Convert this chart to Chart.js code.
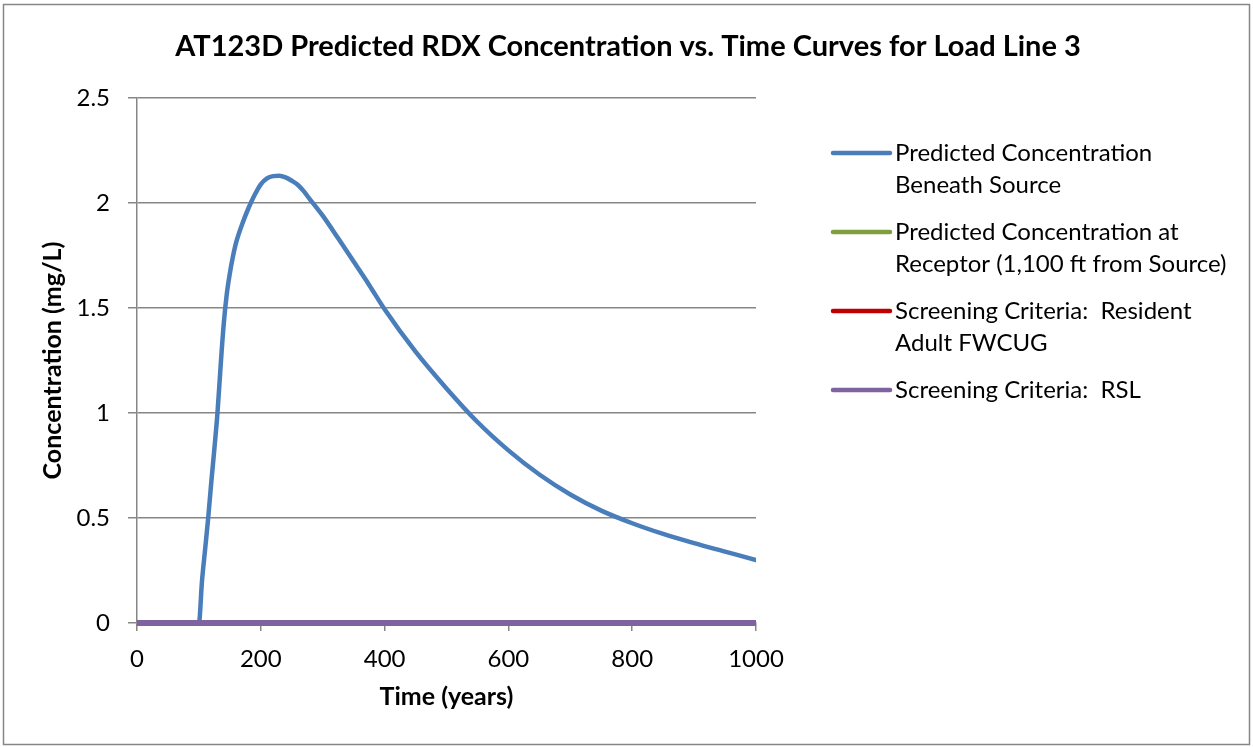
<!DOCTYPE html>
<html>
<head>
<meta charset="utf-8">
<script src="https://cdn.jsdelivr.net/npm/chart.js@4/dist/chart.umd.min.js"></script>
<style>
  html, body { margin: 0; padding: 0; background: #ffffff; }
  #wrap { position: relative; width: 1253px; height: 747px; }
</style>
</head>
<body>
<div id="wrap"><canvas id="c" width="1253" height="747"></canvas></div>
<script>
// ---- Data ----
const years = [0, 50, 100, 105, 110, 115, 120, 125, 130, 135, 140, 145, 150, 155, 160, 170, 180, 190, 200, 210, 220, 230, 240, 250, 260, 270, 280, 290, 300, 325, 350, 375, 400, 450, 500, 550, 600, 650, 700, 750, 800, 850, 900, 950, 1000];
const beneathSource = [0, 0, 0, 0.2, 0.35, 0.5, 0.67, 0.83, 1.0, 1.22, 1.42, 1.565, 1.665, 1.745, 1.81, 1.9, 1.975, 2.038, 2.089, 2.117, 2.128, 2.13, 2.122, 2.106, 2.086, 2.054, 2.015, 1.978, 1.94, 1.832, 1.721, 1.61, 1.494, 1.292, 1.117, 0.957, 0.822, 0.707, 0.612, 0.535, 0.475, 0.424, 0.38, 0.34, 0.30];
const receptorYears = [0, 1000];
const atReceptor = [0, 0];
const fwcugYears = [0, 1000];
const residentAdultFWCUG = [0, 0];
const rslYears = [0, 1000];
const screeningRSL = [0, 0];
const xTicks = [0, 200, 400, 600, 800, 1000];
const yTicks = [0, 0.5, 1, 1.5, 2, 2.5];

const chartTitle = 'AT123D Predicted RDX Concentration vs. Time Curves for Load Line 3';
const xTitle = 'Time (years)';
const yTitle = 'Concentration (mg/L)';
const seriesNames = [
  ['Predicted Concentration', 'Beneath Source'],
  ['Predicted Concentration at', 'Receptor (1,100 ft from Source)'],
  ['Screening Criteria:  Resident', 'Adult FWCUG'],
  ['Screening Criteria:  RSL']
];
const seriesColors = ['#4A7EBB', '#7F9F3F', '#C00000', '#7F62A0'];

function pts(xs, ys) { return xs.map((x, i) => ({ x: x, y: ys[i] })); }

const FONT = 'Lato, "Noto Sans", sans-serif';
const GRID = '#868686';

const borderPlugin = {
  id: 'outerBorder',
  beforeDraw(chart) {
    const ctx = chart.ctx;
    ctx.save();
    ctx.fillStyle = '#ffffff';
    ctx.fillRect(0, 0, chart.width, chart.height);
    ctx.strokeStyle = '#868686';
    ctx.lineWidth = 1.5;
    ctx.strokeRect(3.5, 4.5, 1246, 740);
    ctx.restore();
  }
};

const titlePlugin = {
  id: 'fullTitle',
  afterDraw(chart) {
    const ctx = chart.ctx;
    ctx.save();
    ctx.font = 'bold 29px ' + FONT;
    ctx.fillStyle = '#000000';
    ctx.textAlign = 'center';
    ctx.textBaseline = 'middle';
    ctx.fillText(chartTitle, 628, 47);
    ctx.restore();
  }
};

const legendPlugin = {
  id: 'sideLegend',
  afterDraw(chart) {
    const ctx = chart.ctx;
    const area = chart.chartArea;
    const x0 = area.right + 77;
    const lineLen = 57;
    const textX = x0 + lineLen + 5;
    let y = area.top + 55;
    const lh = 32;
    const gap = 15;
    ctx.save();
    ctx.font = '24px ' + FONT;
    ctx.textBaseline = 'middle';
    ctx.textAlign = 'left';
    seriesNames.forEach((lines, i) => {
      ctx.strokeStyle = seriesColors[i];
      ctx.lineWidth = 4.5;
      ctx.lineCap = 'round';
      ctx.beginPath();
      ctx.moveTo(x0, y);
      ctx.lineTo(x0 + lineLen, y);
      ctx.stroke();
      ctx.fillStyle = '#000000';
      lines.forEach((t, j) => ctx.fillText(t, textX, y + j * lh));
      y += lines.length * lh + gap;
    });
    ctx.restore();
  }
};

new Chart(document.getElementById('c'), {
  type: 'line',
  data: {
    datasets: [
      { label: seriesNames[0].join(' '), data: pts(years, beneathSource), borderColor: seriesColors[0], borderWidth: 4.5, pointRadius: 0, cubicInterpolationMode: 'monotone', order: 4, borderCapStyle: 'round', borderJoinStyle: 'round' },
      { label: seriesNames[1].join(' '), data: pts(receptorYears, atReceptor), borderColor: seriesColors[1], borderWidth: 4.5, pointRadius: 0, order: 3, clip: 6 },
      { label: seriesNames[2].join(' '), data: pts(fwcugYears, residentAdultFWCUG), borderColor: seriesColors[2], borderWidth: 4.5, pointRadius: 0, order: 2, clip: 6 },
      { label: seriesNames[3].join(' '), data: pts(rslYears, screeningRSL), borderColor: seriesColors[3], borderWidth: 6, pointRadius: 0, order: 1, clip: 6 }
    ]
  },
  options: {
    responsive: false,
    animation: false,
    devicePixelRatio: 1,
    layout: { padding: { left: 0, right: 497, top: 98, bottom: 0 } },
    plugins: {
      legend: { display: false },
      tooltip: { enabled: false },
      title: { display: false }
    },
    scales: {
      x: {
        type: 'linear',
        min: 0, max: 1000,
        afterFit(s) { s.height = 124; },
        afterBuildTicks(s) { s.ticks = xTicks.map(v => ({ value: v })); },
        grid: { display: true, drawOnChartArea: false, drawTicks: true, tickLength: 8, color: GRID, lineWidth: 1.5 },
        border: { display: true, color: GRID, width: 1.5 },
        ticks: { color: '#000000', font: { family: FONT, size: 24 }, padding: 14, maxRotation: 0, callback: v => String(v) },
        title: { display: true, text: xTitle, color: '#000000', font: { family: FONT, size: 25, weight: 'bold' }, padding: { top: 10, bottom: 35 } }
      },
      y: {
        type: 'linear',
        min: 0, max: 2.5,
        afterFit(s) { s.width = 137; },
        afterBuildTicks(s) { s.ticks = yTicks.map(v => ({ value: v })); },
        grid: { display: true, drawOnChartArea: true, drawTicks: true, tickLength: 9, color: GRID, lineWidth: 1.5 },
        border: { display: true, color: GRID, width: 1.5 },
        ticks: { color: '#000000', font: { family: FONT, size: 24 }, padding: 18, callback: v => String(v) },
        title: { display: true, text: yTitle, color: '#000000', font: { family: FONT, size: 25, weight: 'bold' }, padding: { top: 38, bottom: 0 } }
      }
    }
  },
  plugins: [borderPlugin, titlePlugin, legendPlugin]
});
</script>
</body>
</html>
